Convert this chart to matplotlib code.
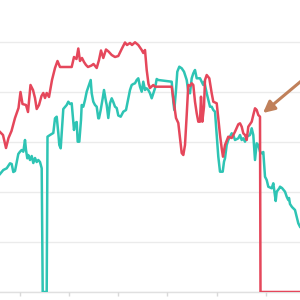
import matplotlib.pyplot as plt

# --- datos ---
red_x = [0, 3, 6, 8.5, 11.5, 15, 18.5, 20.5, 22.5, 26, 28, 30.5, 33, 35, 36.7, 39, 41.5, 43.3, 45, 46.7,
         49, 52, 55, 57.5, 60, 71.7, 74, 76.5, 78.3, 80, 82, 84, 86, 88, 91.5, 93.5, 96.7, 99, 101, 103.3,
         106, 108.5, 111.7, 115, 118.3, 121.7, 125, 127, 130, 132, 135, 138.3, 141.7, 143.3, 145, 146.7,
         148.5, 150, 153.3, 155, 171.7, 173.5, 176, 178.3, 180, 181.7, 183.3, 185, 186.7, 188.3, 190,
         191.7, 193.3, 195, 196.7, 198.3, 200, 201, 202.3, 204, 205, 206.7, 209.3, 211.7, 213.3, 216.7,
         218.3, 220, 221.7, 223, 225, 228.3, 231.7, 235, 238.3, 240, 241.7, 243.3, 245, 246.7, 248.3,
         251.7, 253.3, 255, 256.7, 258.3, 260, 260.5, 300]
red_y = [160, 157, 144, 154, 161, 174, 184, 200, 188, 187, 180, 207, 202, 194, 183, 187, 196, 199, 194, 199,
         195, 212, 224, 231, 225, 225, 235, 233, 243.5, 231, 234, 230, 227, 225, 226.5, 228, 224, 232, 241.5, 234,
         242.5, 240.5, 237, 235, 236, 243, 249.5, 247, 249, 247, 249.7, 247, 242, 239, 242, 222,
         208, 204, 207, 205.3, 205.3, 192, 174, 169, 154, 139, 137, 147, 177, 207, 206,
         208.7, 207, 190.3, 178.7, 170.3, 170.3, 195.3, 170.3, 185.3, 212, 217, 213.7, 198.7, 190.3, 188.7,
         173.7, 157, 143.7, 135.3, 147, 155.3, 154, 160.3, 167.7, 168.7, 165.3, 158.7, 157, 152, 165.3,
         170.3, 177, 183.7, 182, 177, 175.3, 0, 0]

teal_x = [0, 3.3, 6.7, 10, 11.7, 13.3, 15, 16.7, 18.3, 20, 21.7, 23.3, 25, 26, 27.3, 28.3, 30, 31.7, 33.3,
          35, 36.7, 38.3, 40, 41.7, 42.7, 46.7, 47.5, 50, 53.3, 55, 56.7, 58.3, 59.3, 60.7, 61.7, 63.3, 65,
          66.7, 68.3, 70, 71.7, 72.7, 74, 75, 76.7, 77.7, 79.3, 81, 81.7, 83.3, 85, 86.7, 89, 90.7, 91.7,
          93.3, 95, 96.7, 98.3, 99, 100.7, 102.7, 104, 106, 106.7, 108.3, 110, 111.7, 113.3, 115, 116.7,
          118.3, 120.7, 123.3, 126, 128.3, 130, 131.7, 133.3, 135, 136.7, 138.3, 140, 141.7, 143.3, 145,
          146.5, 148.3, 150, 151.7, 153.3, 155, 156.7, 158.3, 171.7, 173.3, 174.3, 176, 177.3, 179.3,
          181.7, 184, 186.7, 188.3, 190, 191.7, 193.3, 195, 196.7, 200, 201.7, 203.3, 204.3, 206.7, 208.3,
          210, 211.7, 213.3, 215, 216.7, 218.3, 220, 222.7, 224, 225, 226.7, 228.3, 230, 231.7, 233.3,
          235, 238.3, 240, 241.7, 243.3, 245, 246.7, 250, 251.7, 253.3, 255, 256.7, 258.3, 260, 261.7,
          263.3, 265, 266.7, 268.3, 271.7, 273.3, 275.7, 276.7, 279.3, 280, 282, 285, 286.7, 288.3, 289,
          290, 292, 293.3, 295, 296.7, 298.3, 300]
teal_y = [118, 122, 123.7, 128.7, 128, 120, 121, 130, 138, 140.3, 142, 140.3, 152, 142, 133.7, 137, 132, 136, 129,
          134, 130, 132, 130, 123.7, 0, 0, 155.3, 157, 159, 173.7, 175.3, 159, 147, 143.7, 159, 183, 185,
          187, 190.3, 188, 188.7, 177, 162, 168.7, 170, 150.3, 150.3, 172, 187, 185.3, 192, 200.3, 207, 212, 198.7,
          190.3, 187, 185.3, 173.7, 173.7, 182, 193.7, 202, 190.3, 187, 174, 188.7, 193.7, 190, 185.3, 184,
          176.5, 175.3, 180.3, 182, 193.7, 202, 207, 208, 208.7, 212, 213.7, 205.3, 200.3, 210.3, 202,
          203.7, 202, 198.7, 193.7, 198.7, 203.7, 213, 212, 210.3, 190.3, 182, 202, 220.3, 225.3,
          223.7, 220.3, 212, 200.3, 198.7, 213.7, 218.7, 222, 213.7, 213.7, 210.3, 207, 210.3, 198.7, 192,
          185.3, 185.3, 182, 180.3, 157, 135.3, 120.3, 120.3, 130.3, 133.7, 147, 152, 155.3, 158.7, 157,
          152, 153.7, 157, 152, 153.7, 150.3, 155.3, 157, 163.7, 157, 132, 148.7, 147, 140.3, 138.7,
          140, 115.3, 112, 105.3, 103.7, 108.7, 91, 100.3, 103.7, 105.3, 104, 100.3, 95.3, 92, 94,
          88, 85, 83.7, 82, 75.3, 68.7, 65.3]

tick_pos = [20, 69.3, 117.7, 167.3, 217.3, 265.7]
grid_vals = [0, 50, 100, 150, 200, 250]

rojo = '#e5475b'
verde = '#2ec4b4'
flecha = '#c0805a'

fig = plt.figure(figsize=(3, 3), dpi=100)
ax = fig.add_axes([0, 8 / 300, 1, 292 / 300])

ax.plot(teal_x, teal_y, color=verde, lw=1.8, solid_joinstyle='round')
ax.plot(red_x, red_y, color=rojo, lw=1.8, solid_joinstyle='round')

ax.set_xlim(0, 300)
ax.set_ylim(0, 292)
ax.set_yticks(grid_vals)
ax.set_xticks(tick_pos)
ax.set_xticklabels([])
ax.tick_params(axis='y', length=0, labelleft=False)
ax.tick_params(axis='x', length=3, color='#d9d9d9', width=1)
ax.grid(axis='y', color='#ebebeb', lw=1)
ax.set_axisbelow(True)
for s in ['top', 'right', 'left']:
    ax.spines[s].set_visible(False)
ax.spines['bottom'].set_color('#e0e0e0')
ax.spines['bottom'].set_linewidth(1)
ax.spines['bottom'].set_zorder(0)

# flecha que apunta al ultimo pico
ax.annotate('', xy=(263, 179), xytext=(312, 220), annotation_clip=False,
            arrowprops=dict(arrowstyle='-|>', color=flecha, lw=2.2, mutation_scale=17,
                            shrinkA=0, shrinkB=0))

fig.savefig('out.png', dpi=100)
